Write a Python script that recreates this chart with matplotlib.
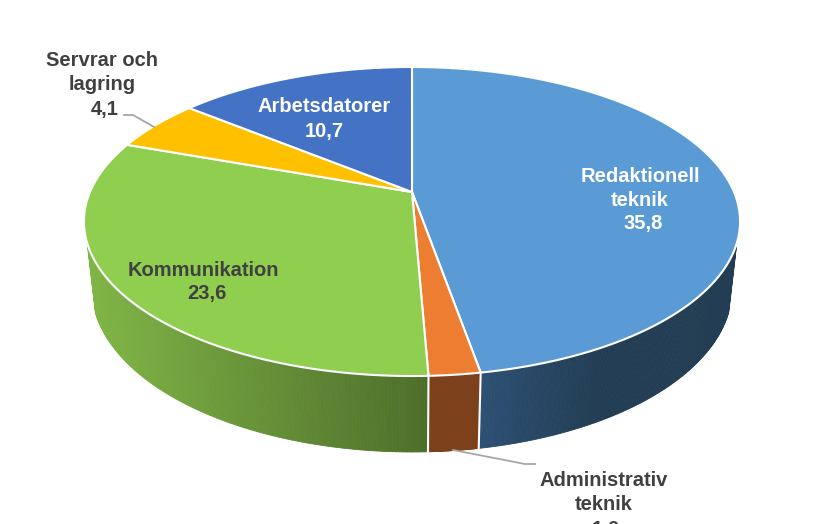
import matplotlib
matplotlib.use("Agg")
import matplotlib.pyplot as plt
import matplotlib.colors as mcolors
import numpy as np

categories = ["Redaktionell teknik", "Administrativ teknik", "Kommunikation", "Servrar och lagring", "Arbetsdatorer"]
values = [35.8, 1.6, 23.6, 4.1, 10.7]
top_colors = ["#5b9bd5", "#ed7d31", "#8fce4f", "#ffc000", "#4472c4"]
# wall colour at the left and right end of each visible piece
wall_colors = [("#2d5074", "#233e54"), ("#7c401b", "#7c401b"), ("#80b546", "#4d6e2a"), None, None]

# label lines, centre x and first baseline centre y in pixels
label_lines = [["Redaktionell", "teknik", "35,8"], ["Administrativ", "teknik", "1,6"],
               ["Kommunikation", "23,6"], ["Servrar och", "lagring", "4,1"], ["Arbetsdatorer", "10,7"]]
label_x = [[640, 640, 643], [604, 604, 606], [203, 207], [102, 102, 105], [324, 324]]
label_y = [176, 481, 270, 61, 107]
label_color = ["white", "#404040", "#404040", "#404040", "white"]

# perspective of the disc, fitted in pixels
CX, CY = 412, 192
A, B, K = 322, 112.2, 0.191
DROP, SHRINK = 72.3, 0.024


def project(theta, r=1.0, lower=False):
    """theta in degrees, clockwise from 12 o'clock"""
    t = np.radians(theta)
    x = r * np.sin(t)
    y = -r * np.cos(t)
    d = 1 - K * y + (SHRINK if lower else 0)
    return CX + A * x / d, (B * y + CY + (DROP if lower else 0)) / d


fig = plt.figure(figsize=(8.23, 5.24), dpi=100)
ax = fig.add_axes([0, 0, 1, 1])
ax.set_xlim(0, 823)
ax.set_ylim(524, 0)
ax.axis("off")

edges = np.concatenate([[0], np.cumsum(values)]) / sum(values) * 360
wall_start, wall_end = 108.7, 251.3

# side wall
for i in range(len(values)):
    lo, hi = max(edges[i], wall_start), min(edges[i + 1], wall_end)
    if hi <= lo or wall_colors[i] is None:
        continue
    ts = np.linspace(lo, hi, 140)
    xs, _ = project(ts)
    c_l = np.array(mcolors.to_rgb(wall_colors[i][0]))
    c_r = np.array(mcolors.to_rgb(wall_colors[i][1]))
    for a, b in zip(ts[:-1], ts[1:]):
        xa, ya = project(a)
        xb, yb = project(b)
        xc, yc = project(b, lower=True)
        xd, yd = project(a, lower=True)
        f = (0.5 * (xa + xb) - xs.min()) / max(xs.max() - xs.min(), 1)
        if i == 0:
            f = min(f * 2.2, 1)
        col = c_l + (c_r - c_l) * f
        ax.fill([xa, xb, xc, xd], [ya, yb, yc, yd], color=col, lw=0.6, zorder=1)

# white seams on the wall
for e in edges[1:3]:
    xa, ya = project(e)
    xb, yb = project(e, lower=True)
    ax.plot([xa, xb], [ya, yb], color="white", lw=1.5, zorder=2)

# top of the disc
for i in range(len(values)):
    ts = np.linspace(edges[i], edges[i + 1], 200)
    xs, ys = project(ts)
    ax.fill(np.r_[CX, xs], np.r_[CY, ys], facecolor=top_colors[i], edgecolor="white",
            lw=1.5, joinstyle="round", zorder=3)

# leader lines
leader_x = [[453, 525, 535], [124, 133, 154]]
leader_y = [[450, 464, 464], [115, 115, 127]]
for lx, ly in zip(leader_x, leader_y):
    ax.plot(lx, ly, color="#a6a6a6", lw=1.3, zorder=4)

for lines, xs, y0, col in zip(label_lines, label_x, label_y, label_color):
    for j, (line, x) in enumerate(zip(lines, xs)):
        ax.text(x, y0 + j * 24, line, ha="center", va="center", color=col, fontsize=14.5,
                fontweight="bold", family="Liberation Sans", zorder=5)

fig.savefig("out.png", dpi=100, facecolor="white")
